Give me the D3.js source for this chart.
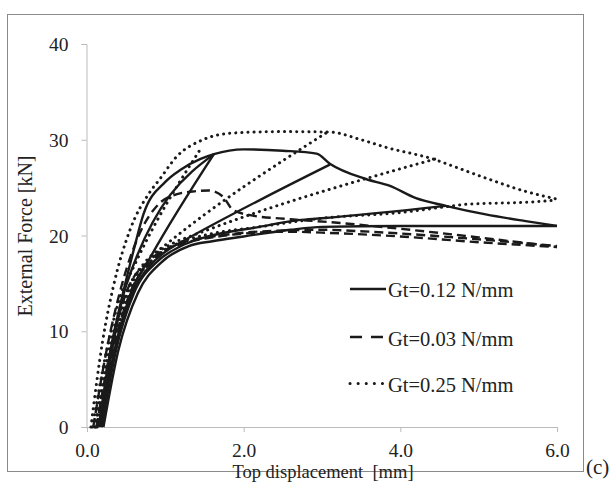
<!DOCTYPE html>
<html><head><meta charset="utf-8">
<script src="https://cdn.jsdelivr.net/npm/d3@7"></script>
<style>body{margin:0;background:#fff}svg{display:block}svg text{font-family:"Liberation Serif","Times New Roman",serif;fill:#222}</style>
</head><body><div id="chart"></div>
<script>
const xTicks = [0, 2, 4, 6];
const yTicks = [0, 10, 20, 30, 40];
const legendLabels = ["Gt=0.12 N/mm", "Gt=0.03 N/mm", "Gt=0.25 N/mm"];

// Gt=0.12 N/mm (solid)
const solidA = [[0.15,0],[0.3,8],[0.46,14],[0.6,18.6],[0.72,22.2],[1.0,25.6],[1.2,26.9],[1.45,28],[1.62,28.5],[2.0,29.0],[2.5,28.85],[2.93,28.55],[3.1,27.5],[3.56,25.9],[3.86,25.2],[4.2,23.9],[4.58,23.1],[5.09,22.2],[5.6,21.5],[6.0,21.0]];
const solidB = [[0.17,0],[0.32,8],[0.5,14.8],[1.62,28.5]];
const solidB2 = [[0.18,0],[0.36,8],[0.55,13.8],[0.8,17.6],[1.62,28.5]];
const solidC = [[0.18,0],[0.35,8],[0.55,13.5],[0.8,16.8],[1.05,18.6],[1.2,19.3],[3.1,27.4]];
const solidD = [[0.19,0],[0.37,8],[0.6,14],[0.9,17.3],[1.2,18.9],[1.5,19.8],[2.2,20.9],[2.7,21.6],[3.0,21.8],[4.58,23.1]];
const solidE = [[0.21,0],[0.4,8],[0.65,14],[0.95,17.2],[1.3,18.9],[1.6,19.4],[2.0,19.9],[2.6,20.6],[3.0,20.9],[4.0,21.0],[6.0,21.0]];

// Gt=0.03 N/mm (dashed)
const dashA = [[0.08,0],[0.25,8],[0.45,15],[0.65,19.8],[0.93,23.4],[1.14,24.3],[1.35,24.6],[1.55,24.7],[1.73,24.1],[1.86,22.7],[2.1,22.1],[2.6,21.7],[3.1,21.4],[4.0,20.7],[5.0,19.8],[6.0,18.8]];
const dashB = [[0.12,0],[0.3,8],[0.5,14],[0.8,17.4],[1.2,19.1],[1.6,19.8],[2.0,20.2],[2.6,20.4],[3.0,20.3],[4.0,19.9],[5.0,19.3],[6.0,18.8]];
const dashC = [[0.14,0],[0.33,8],[0.55,14],[0.85,17.5],[1.2,19.2],[1.7,20.0],[2.4,20.5],[3.0,20.6],[3.6,20.4],[4.2,20.1],[5.0,19.6],[6.0,18.9]];

// Gt=0.25 N/mm (dotted)
const dotA = [[0.05,0],[0.2,9],[0.34,14.8],[0.55,20.6],[0.8,24.5],[0.93,25.9],[1.14,28.2],[1.48,30.0],[1.86,30.7],[2.5,30.85],[3.1,30.8],[3.5,30.0],[3.82,29.2],[4.45,27.9],[4.62,27.4],[5.09,26.0],[5.6,24.6],[6.0,23.8]];
const dotB = [[0.07,0],[0.25,8],[0.42,13.5],[0.6,16.8],[1.47,29.3]];
const dotC = [[0.1,0],[0.28,8],[0.5,14],[0.75,17.3],[1.0,19.0],[3.05,30.7]];
const dotD = [[0.11,0],[0.3,8],[0.52,14],[0.8,17.5],[1.1,19.2],[1.35,20.0],[4.45,28.0]];
const dotE = [[0.13,0],[0.32,8],[0.55,14],[0.85,17.6],[1.2,19.3],[1.6,20.2],[2.2,20.9],[2.7,21.5],[3.0,21.8],[4.0,22.4],[4.58,23.0],[4.83,23.25],[5.68,23.5],[6.0,23.7]];

const solidSeries = [solidA, solidB, solidB2, solidC, solidD, solidE];
const dashSeries = [dashA, dashB, dashC];
const dotSeries = [dotA, dotB, dotC, dotD, dotE];

const W = 609, H = 495;
const FONT = "'Liberation Serif','Times New Roman',serif";
const svg = d3.select("#chart").append("svg").attr("width", W).attr("height", H)
  .attr("font-family", FONT);

svg.append("rect").attr("x", 7.5).attr("y", 14.5).attr("width", 576).attr("height", 457)
  .attr("fill", "none").attr("stroke", "#8a8a8a").attr("stroke-width", 1);

const x = d3.scaleLinear().domain([0, 6]).range([87, 557]);
const y = d3.scaleLinear().domain([0, 40]).range([427, 44]);

const xAxis = svg.append("g").attr("transform", "translate(0,427)")
  .call(d3.axisBottom(x).tickValues(xTicks).tickFormat(d3.format(".1f")).tickSizeOuter(0).tickSize(5));
const yAxis = svg.append("g").attr("transform", "translate(86.5,0)")
  .call(d3.axisLeft(y).tickValues(yTicks).tickFormat(d3.format("d")).tickSizeOuter(0).tickSize(5));
[xAxis, yAxis].forEach(g => {
  g.attr("font-family", FONT);
  g.select(".domain").attr("stroke", "#bbb");
  g.selectAll(".tick line").attr("stroke", "#bbb");
  g.selectAll(".tick text").attr("font-size", 19.5).style("font-family", FONT).attr("fill", "#222");
});
xAxis.selectAll(".tick text").attr("y", 29.5).attr("dy", 0);
yAxis.selectAll(".tick text").attr("x", -18).attr("dy", "0.34em");

const line = d3.line().x(d => x(d[0])).y(d => y(d[1])).curve(d3.curveMonotoneX);

const styles = {
  solid: {dash: null, width: 2.4, cap: "butt"},
  dash: {dash: "9,5", width: 2.4, cap: "butt"},
  dot: {dash: "0.1,6", width: 3, cap: "round"}
};
function drawSet(series, st) {
  svg.append("g").selectAll("path").data(series).join("path")
    .attr("d", line).attr("fill", "none").attr("stroke", "#1a1a1a")
    .attr("stroke-width", st.width).attr("stroke-dasharray", st.dash)
    .attr("stroke-linecap", st.cap).attr("stroke-linejoin", "round");
}
drawSet(solidSeries, styles.solid);
drawSet(dashSeries, styles.dash);
drawSet(dotSeries, styles.dot);

// Legend
const legLineY = [289, 337, 383.5];
const legTextY = [296.5, 345.5, 392];
const legDash = [null, "12,9", "0.1,8"];
const legStyles = [styles.solid, styles.dash, styles.dot];
legendLabels.forEach((lab, i) => {
  svg.append("line").attr("x1", 350).attr("x2", 386).attr("y1", legLineY[i]).attr("y2", legLineY[i])
    .attr("stroke", "#1a1a1a").attr("stroke-width", legStyles[i].width)
    .attr("stroke-dasharray", legDash[i]).attr("stroke-linecap", legStyles[i].cap);
  svg.append("text").attr("x", 388).attr("y", legTextY[i])
    .attr("font-size", 20.5).style("font-family", FONT).text(lab);
});

svg.append("text").attr("transform", "translate(32,236) rotate(-90)").attr("text-anchor", "middle")
  .attr("font-size", 20).style("font-family", FONT).text("External Force [kN]");
svg.append("text").attr("x", 323).attr("y", 478).attr("text-anchor", "middle")
  .attr("font-size", 18.5).style("font-family", FONT).style("white-space", "pre").text("Top displacement  [mm]");
svg.append("text").attr("x", 586).attr("y", 474).attr("font-size", 21).style("font-family", FONT).text("(c)");
</script></body></html>
